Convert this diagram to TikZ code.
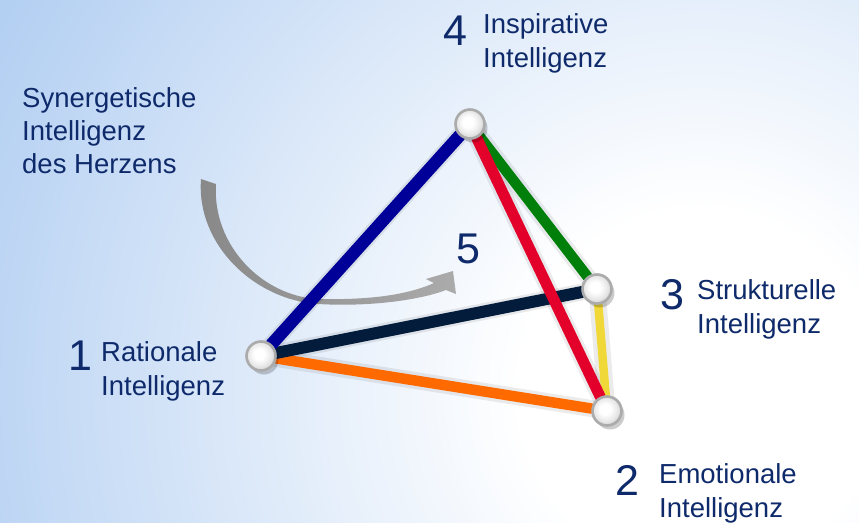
\documentclass[tikz,border=0pt]{standalone}
\usepackage{fontspec}
\setmainfont{Liberation Sans}
\usetikzlibrary{shadows}
\definecolor{txt}{HTML}{0E2A6A}
\definecolor{bgblue}{HTML}{B3CFF2}
\definecolor{lblue}{HTML}{000099}
\definecolor{lnavy}{HTML}{041C3C}
\definecolor{lred}{HTML}{E3002B}
\definecolor{lgreen}{HTML}{00800A}
\definecolor{lorange}{HTML}{FF6A00}
\definecolor{lyellow}{HTML}{F0D838}
\definecolor{arrowdark}{HTML}{888888}
\definecolor{arrowlight}{HTML}{ABABAB}
\pgfdeclarelayer{back}
\pgfdeclarelayer{edges}
\pgfsetlayers{back,edges,main}
\pgfdeclareradialshading{bgshade}{\pgfpoint{0bp}{0bp}}{color(0bp)=(white); color(5bp)=(white); color(22bp)=(bgblue); color(50bp)=(bgblue)}
\pgfdeclareradialshading{knobshade}{\pgfpoint{-4bp}{4bp}}{color(0bp)=(white); color(9bp)=(white); color(20bp)=(black!9); color(30bp)=(black!22); color(50bp)=(black!22)}
\tikzset{
  knob/.style={circle, minimum size=29pt, inner sep=0pt, draw=black!33, line width=2.6pt,
    shading=knobshade, drop shadow={shadow xshift=3pt, shadow yshift=-4pt, opacity=0.2, fill=black}},
  lbl/.style={anchor=base west, inner sep=0pt, text=txt, font=\fontsize{27.5}{32}\selectfont},
  num/.style={anchor=base west, inner sep=0pt, text=txt, font=\fontsize{43}{43}\selectfont},
  bar/.style={line cap=round},
  barshadow/.style={line cap=round, draw=black, opacity=0.08, line width=17pt}
}
\begin{document}
\begin{tikzpicture}[x=1pt,y=-1pt]
\useasboundingbox (0,0) rectangle (859,522);
% vertices
\node[knob] (n1) at (261,356) {};
\node[knob] (n2) at (607,411) {};
\node[knob] (n3) at (597,289) {};
\node[knob] (n4) at (470,124) {};
% labels
\node[num] (d4) at (443,45) {4};
\node[lbl] (t4a) at (483,33) {Inspirative};
\node[lbl] (t4b) at (483,67) {Intelligenz};
\node[num] (d1) at (68,370) {1};
\node[lbl] (t1a) at (101,361) {Rationale};
\node[lbl] (t1b) at (101,395) {Intelligenz};
\node[num] (d3) at (660,309) {3};
\node[lbl] (t3a) at (697,299) {Strukturelle};
\node[lbl] (t3b) at (697,333) {Intelligenz};
\node[num] (d2) at (615,495) {2};
\node[lbl] (t2a) at (659,483) {Emotionale};
\node[lbl] (t2b) at (659,517) {Intelligenz};
\node[num] (d5) at (456,263) {5};
\node[lbl] (s1) at (22,107) {Synergetische};
\node[lbl] (s2) at (22,140) {Intelligenz};
\node[lbl] (s3) at (22,173) {des Herzens};
\begin{pgfonlayer}{back}
  \fill[bgblue] (0,0) rectangle (859,522);
  \begin{scope}
    \clip (0,0) rectangle (859,522);
    \shade[shading=bgshade] (700,390) circle (900pt);
  \end{scope}
  % curved arrow
  \shade[left color=arrowdark, right color=arrowlight]
    (201,179) .. controls (196,245) and (255,300) .. (318,304)
    .. controls (370,307) and (420,300) .. (446,290)
    -- (456,294) -- (453,271) -- (426,279) -- (434,283)
    .. controls (405,296) and (365,300) .. (318,299)
    .. controls (262,296) and (212,245) .. (216,184) -- cycle;
\end{pgfonlayer}
\begin{pgfonlayer}{edges}
  \begin{scope}[shift={(4,5)}]
    \draw[barshadow] (n1.center) -- (n4.center);
    \draw[barshadow] (n1.center) -- (n3.center);
    \draw[barshadow] (n1.center) -- (n2.center);
    \draw[barshadow] (n4.center) -- (n2.center);
    \draw[barshadow] (n4.center) -- (n3.center);
    \draw[barshadow] (n3.center) -- (n2.center);
  \end{scope}
  \draw[bar, draw=lyellow, line width=8.5pt] (n3) -- (n2);
  \draw[bar, draw=lgreen, line width=10.5pt] (n4) -- (n3);
  \draw[bar, draw=lorange, line width=10.5pt] (n1) -- (n2);
  \draw[bar, draw=lnavy, line width=12pt] (n1) -- (n3);
  \draw[bar, draw=lred, line width=11pt] (n4) -- (n2);
  \draw[bar, draw=lblue, line width=12.5pt] (n1) -- (n4);
\end{pgfonlayer}
\end{tikzpicture}
\end{document}
